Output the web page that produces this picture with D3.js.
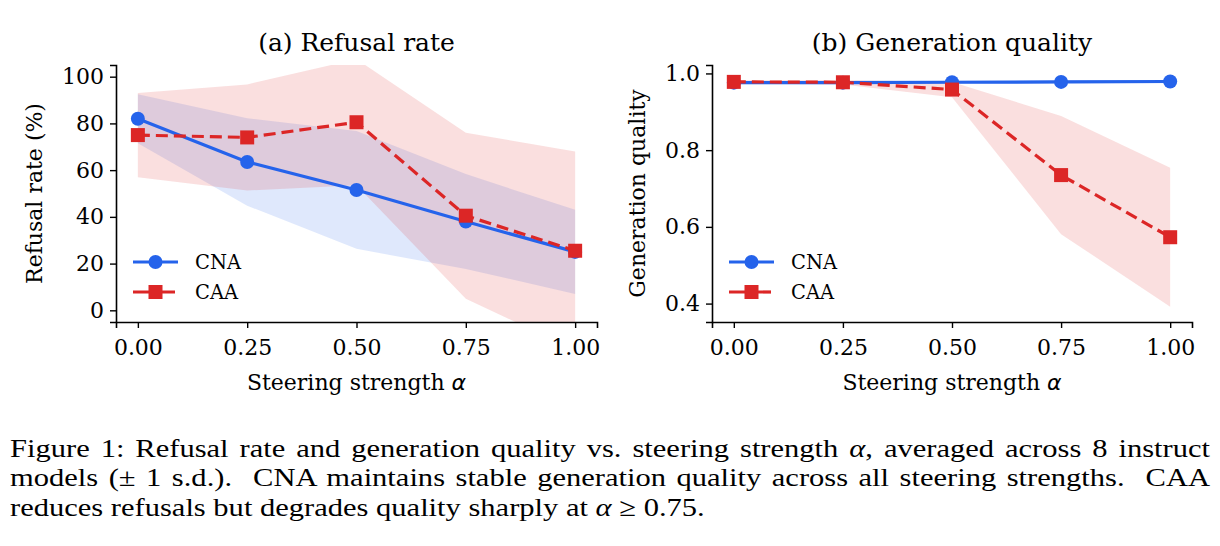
<!DOCTYPE html>
<html lang="en">
    <head>
        <meta charset="utf-8"/>
        <script src="https://d3js.org/d3.v7.min.js"></script>
        <style>
            body { margin: 0; background: #fff; }
            text { fill: #000; }
            .cap { font-family: "Liberation Serif", "Times New Roman", serif; font-size: 26px; }
        </style>
    </head>
    <body>
        <div id="chart"></div>
    </body>
    <script>
        // values
        var alphas = [0, 0.25, 0.5, 0.75, 1.0];
        var xTicks = [0, 0.25, 0.5, 0.75, 1.0];

        var cnaRefusal = [82, 63.5, 51.5, 38, 25];
        var cnaRefusalSd = [10.5, 18.7, 25.2, 20.3, 18];
        var caaRefusal = [75, 74, 80.5, 40.5, 25.5];
        var caaRefusalSd = [18, 22.7, 27, 35.5, 42.5];

        var cnaQuality = [0.976, 0.976, 0.977, 0.978, 0.979];
        var cnaQualitySd = [0.004, 0.004, 0.004, 0.004, 0.004];
        var caaQuality = [0.978, 0.977, 0.958, 0.735, 0.573];
        var caaQualitySd = [0.004, 0.006, 0.02, 0.154, 0.181];

        var refusalTicks = [0, 20, 40, 60, 80, 100];
        var qualityTicks = [0.4, 0.6, 0.8, 1.0];

        var blue = "#2563eb";
        var red = "#dc2626";

        var svg = d3.select("#chart")
            .append("svg")
                .attr("width", 1220)
                .attr("height", 546)
                .style("font-family", "'DejaVu Serif', serif");

        function panel(opts) {
            var x = d3.scaleLinear().domain([-0.05, 1.05]).range([opts.left, opts.right]);
            var y = d3.scaleLinear().domain(opts.yDomain).range([opts.bottom, opts.top]);

            var clipId = "clip-" + opts.id;
            svg.append("clipPath").attr("id", clipId)
                .append("rect")
                    .attr("x", opts.left)
                    .attr("y", opts.top)
                    .attr("width", opts.right - opts.left)
                    .attr("height", opts.bottom - opts.top);

            var g = svg.append("g");
            var plot = g.append("g").attr("clip-path", "url(#" + clipId + ")");

            var series = [
                { mean: opts.cna, sd: opts.cnaSd, color: blue, dash: null, marker: "circle" },
                { mean: opts.caa, sd: opts.caaSd, color: red, dash: "12,6", marker: "square" }
            ];

            var area = d3.area()
                .x(function (d) { return x(d.a); })
                .y0(function (d) { return y(d.m - d.s); })
                .y1(function (d) { return y(d.m + d.s); });

            series.forEach(function (s) {
                var pts = alphas.map(function (a, i) { return { a: a, m: s.mean[i], s: s.sd[i] }; });
                plot.append("path")
                    .attr("d", area(pts))
                    .attr("fill", s.color)
                    .attr("fill-opacity", 0.15);
            });

            var line = d3.line()
                .x(function (d) { return x(d.a); })
                .y(function (d) { return y(d.m); });

            series.forEach(function (s) {
                var pts = alphas.map(function (a, i) { return { a: a, m: s.mean[i] }; });
                g.append("path")
                    .attr("d", line(pts))
                    .attr("fill", "none")
                    .attr("stroke", s.color)
                    .attr("stroke-width", 3.2)
                    .attr("stroke-dasharray", s.dash);
                pts.forEach(function (d) {
                    if (s.marker === "circle") {
                        g.append("circle")
                            .attr("cx", x(d.a)).attr("cy", y(d.m)).attr("r", 7)
                            .attr("fill", s.color);
                    } else {
                        g.append("rect")
                            .attr("x", x(d.a) - 7).attr("y", y(d.m) - 7)
                            .attr("width", 14).attr("height", 14)
                            .attr("fill", s.color);
                    }
                });
            });

            // axes
            var xAxis = g.append("g")
                .attr("transform", "translate(0," + opts.bottom + ")")
                .call(d3.axisBottom(x).tickValues(xTicks).tickFormat(d3.format(".2f")).tickSizeOuter(0).tickSize(6).tickPadding(11));
            var yAxis = g.append("g")
                .attr("transform", "translate(" + opts.left + ",0)")
                .call(d3.axisLeft(y).tickValues(opts.yTicks).tickFormat(opts.yFormat).tickSizeOuter(0).tickSize(6).tickPadding(6));
            [xAxis, yAxis].forEach(function (ax) {
                ax.select(".domain").attr("stroke", "#000").attr("stroke-width", 1.6);
                ax.selectAll(".tick line").attr("stroke", "#000").attr("stroke-width", 1.4);
                ax.selectAll(".tick text")
                    .style("font-family", "'DejaVu Serif', serif")
                    .style("font-size", "22px")
                    .attr("fill", "#000");
            });

            var cx = (opts.left + opts.right) / 2;
            g.append("text")
                .attr("x", cx).attr("y", 51)
                .attr("text-anchor", "middle")
                .style("font-size", "25px")
                .text(opts.title);

            var xl = g.append("text")
                .attr("x", cx).attr("y", 390)
                .attr("text-anchor", "middle")
                .style("font-size", "22px")
                .text("Steering strength ");
            xl.append("tspan")
                .style("font-family", "'DejaVu Sans', sans-serif")
                .style("font-style", "italic")
                .text("α");

            g.append("text")
                .attr("transform", "translate(" + opts.yLabelX + "," + ((opts.top + opts.bottom) / 2) + ") rotate(-90)")
                .attr("text-anchor", "middle")
                .style("font-size", "22px")
                .text(opts.yLabel);

            // legend
            var lx = opts.left + 17;
            series.forEach(function (s, i) {
                var ly = 262 + i * 30;
                g.append("line")
                    .attr("x1", lx).attr("x2", lx + 45)
                    .attr("y1", ly).attr("y2", ly)
                    .attr("stroke", s.color)
                    .attr("stroke-width", 3.2)
                    .attr("stroke-dasharray", s.dash ? "18,6" : null);
                if (s.marker === "circle") {
                    g.append("circle").attr("cx", lx + 22.5).attr("cy", ly).attr("r", 7).attr("fill", s.color);
                } else {
                    g.append("rect").attr("x", lx + 15.5).attr("y", ly - 7).attr("width", 14).attr("height", 14).attr("fill", s.color);
                }
                g.append("text")
                    .attr("x", lx + 62).attr("y", ly + 7)
                    .style("font-size", "19.5px")
                    .text(i === 0 ? "CNA" : "CAA");
            });
        }

        panel({
            id: "a", left: 116, right: 597, top: 65, bottom: 322,
            yDomain: [-5, 105], yTicks: refusalTicks, yFormat: d3.format("d"),
            cna: cnaRefusal, cnaSd: cnaRefusalSd, caa: caaRefusal, caaSd: caaRefusalSd,
            title: "(a) Refusal rate", yLabel: "Refusal rate (%)", yLabelX: 42
        });

        panel({
            id: "b", left: 712, right: 1192, top: 65, bottom: 322,
            yDomain: [0.352, 1.022], yTicks: qualityTicks, yFormat: d3.format(".1f"),
            cna: cnaQuality, cnaSd: cnaQualitySd, caa: caaQuality, caaSd: caaQualitySd,
            title: "(b) Generation quality", yLabel: "Generation quality", yLabelX: 645
        });

        // caption: three lines, first two justified to the full width
        var capLines = [
            [["Figure 1: Refusal rate and generation quality vs. steering strength ", false], ["α", true], [", averaged across 8 instruct", false]],
            [["models (± 1 s.d.).  CNA maintains stable generation quality across all steering strengths.  CAA", false]],
            [["reduces refusals but degrades quality sharply at ", false], ["α", true], [" ≥ 0.75.", false]]
        ];
        var capWidth = 1200, lastWidth = 695;
        var cap = svg.append("g");
        var capTexts = capLines.map(function (parts, i) {
            var t = cap.append("text").attr("class", "cap")
                .attr("x", 0).attr("y", 457 + i * 29.5)
                .attr("xml:space", "preserve");
            parts.forEach(function (p) {
                t.append("tspan").style("font-style", p[1] ? "italic" : null).text(p[0]);
            });
            return t;
        });
        // glyphs in the figure are a little wider than Liberation Serif: stretch horizontally
        var sx = lastWidth / capTexts[2].node().getComputedTextLength();
        cap.attr("transform", "translate(10,0) scale(" + sx + ",1)");
        capTexts.forEach(function (t, i) {
            if (i < 2) {
                var w = t.node().getComputedTextLength();
                var text = capLines[i].map(function (p) { return p[0]; }).join("");
                var spaces = (text.match(/ /g) || []).length;
                t.attr("word-spacing", Math.max(0, (capWidth / sx - w) / spaces));
            }
        });
    </script>
</html>
